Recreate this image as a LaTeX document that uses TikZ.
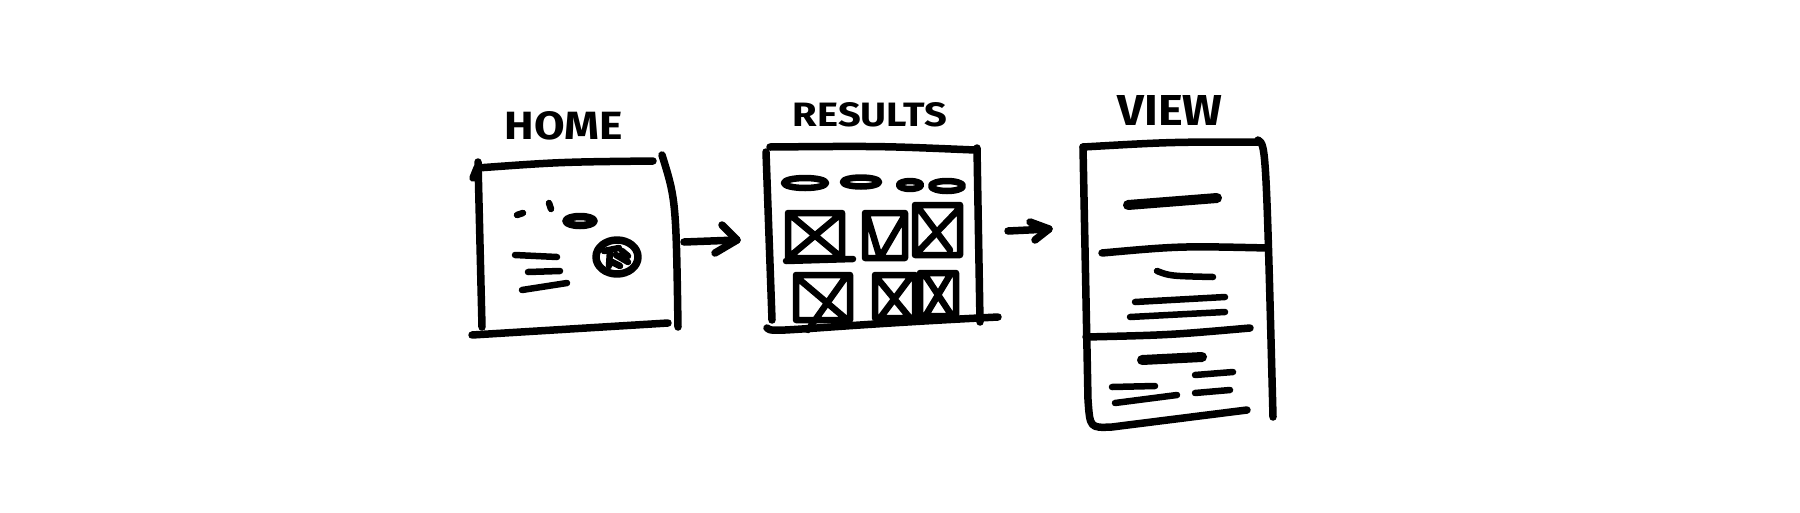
\documentclass[tikz,border=0pt]{standalone}
\usepackage{fontspec}
\setmainfont{Fira Sans}
\usepackage{graphicx}
\begin{document}
\begin{tikzpicture}[x=1pt,y=-1pt,
  ink/.style={line width=7.5pt,line cap=round,line join=round},
  inks/.style={line width=6.5pt,line cap=round,line join=round},
  inkb/.style={line width=10pt,line cap=round,line join=round},
  lbl/.style={inner sep=0pt,font=\bfseries}]
\useasboundingbox[fill=white] (0,0) rectangle (1800,512);

% ---------- labels ----------
\node[lbl] (homeT) at (564,126) {\resizebox{118pt}{28pt}{HOME}};
\node[lbl] (resT) at (870,115) {\resizebox{154pt}{24pt}{RESULTS}};
\node[lbl] (viewT) at (1170,110) {\resizebox{105pt}{30pt}{VIEW}};

% ---------- HOME panel ----------
\draw[ink] (473,178) -- (477,168) .. controls (560,162) .. (653,161);
\draw[ink] (478,162) -- (482,327);
\draw[ink] (662,155) .. controls (676,200) .. (678,327);
\draw[ink] (472,335) -- (668,323);
\draw[inks] (517,215) -- (523,213);
\draw[inks] (549,203) -- (551,209);
\draw[ink] (580,221) ellipse [x radius=14, y radius=4.5];
\draw[ink] (617,257) ellipse [x radius=21, y radius=17];
\draw[inks] (604,251) -- (619,248) (610,251) -- (609,266) (616,255) -- (628,262) (622,251) -- (628,256) (612,262) -- (620,266);
\draw[inks] (515,255) -- (557,257);
\draw[inks] (528,272) -- (560,271);
\draw[inks] (522,290) -- (567,283);

% arrow 1
\coordinate (a1s) at (684,242);
\coordinate (a1e) at (737,240);
\draw[ink] (a1s) -- (a1e);
\draw[ink] (722,225) -- (a1e) -- (715,253);

% ---------- RESULTS panel ----------
\draw[ink] (770,147) .. controls (880,146) .. (975,150);
\draw[ink] (766,152) -- (772,320);
\draw[ink] (977,148) -- (980,322);
\draw[ink] (767,328) .. controls (770,334) and (800,327) .. (998,317);
\draw[inks] (805,183) ellipse [x radius=21, y radius=5];
\draw[inks] (861,182) ellipse [x radius=18, y radius=4.5];
\draw[inks] (910,185) ellipse [x radius=11, y radius=4];
\draw[inks] (947,186) ellipse [x radius=16, y radius=5];
% image placeholders
\draw[inks] (788,213) rectangle (842,258) (788,213) -- (842,258) (788,258) -- (842,213);
\draw[inks] (786,261) -- (853,259);
\draw[inks] (865,213) rectangle (905,258) (867,215) -- (880,258) -- (905,215);
\draw[inks] (915,205) rectangle (960,255) (915,255) -- (958,210) (920,210) -- (950,250);
\draw[inks] (796,275) rectangle (850,320) (800,280) -- (845,318) (845,278) -- (808,330);
\draw[inks] (875,275) rectangle (915,318) (877,278) -- (910,318) (910,278) -- (880,318);
\draw[inks] (920,273) rectangle (956,316) (925,275) -- (952,316) (950,275) -- (926,315);

% arrow 2
\coordinate (a2s) at (1008,231);
\coordinate (a2e) at (1049,229);
\draw[ink] (a2s) -- (a2e);
\draw[ink] (1030,222) -- (a2e) -- (1035,240);

% ---------- VIEW panel ----------
\draw[ink] (1083,147) .. controls (1170,142) .. (1258,142);
\draw[ink] (1083,147) -- (1088,400) .. controls (1090,428) .. (1112,427) -- (1247,410);
\draw[ink] (1258,140) .. controls (1266,145) .. (1273,417);
\draw[ink] (1102,253) .. controls (1180,246) .. (1268,248);
\draw[ink] (1086,337) .. controls (1170,335) .. (1250,328);
\draw[inkb] (1128,205) -- (1217,198);
\draw[inks] (1157,271) .. controls (1170,276) .. (1213,277);
\draw[inks] (1135,302) -- (1225,297);
\draw[inks] (1130,317) -- (1225,312);
\draw[inkb] (1142,360) -- (1202,357);
\draw[inks] (1195,375) -- (1233,372);
\draw[inks] (1112,387) -- (1155,386);
\draw[inks] (1195,393) -- (1230,390);
\draw[inks] (1115,403) -- (1177,395);
\end{tikzpicture}
\end{document}
